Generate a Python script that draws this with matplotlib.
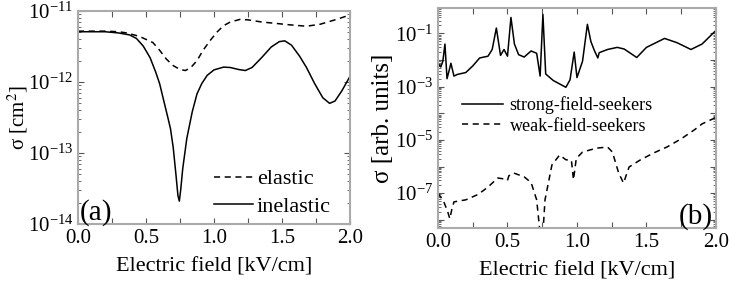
import matplotlib
matplotlib.use("Agg")
import matplotlib.pyplot as plt
from matplotlib.ticker import LogLocator, NullFormatter

plt.rcParams['font.family'] = ['Liberation Serif', 'DejaVu Serif']
plt.rcParams['mathtext.fontset'] = 'stix'

# panel (a)
el_x = [0.0, 0.1, 0.2, 0.3, 0.36, 0.45, 0.55, 0.60, 0.65, 0.70, 0.75, 0.79, 0.83,
        0.875, 0.92, 0.97, 1.02, 1.07, 1.12, 1.19, 1.25, 1.35, 1.45, 1.55, 1.68,
        1.78, 1.9, 2.0]
el_y = [5.2e-12, 5.2e-12, 5.2e-12, 5.1e-12, 4.9e-12, 4.4e-12, 3.6e-12, 2.8e-12,
        2.1e-12, 1.7e-12, 1.5e-12, 1.45e-12, 1.6e-12, 2.0e-12, 2.8e-12, 3.8e-12,
        5.0e-12, 6.2e-12, 7.0e-12, 7.6e-12, 7.5e-12, 7.0e-12, 6.7e-12, 6.4e-12,
        6.1e-12, 6.5e-12, 7.6e-12, 8.8e-12]
inel_x = [0.0, 0.1, 0.2, 0.3, 0.38, 0.43, 0.48, 0.53, 0.57, 0.60, 0.63, 0.66, 0.68,
          0.70, 0.72, 0.735, 0.745, 0.755, 0.77, 0.80, 0.84, 0.875, 0.91, 0.95, 1.0,
          1.07, 1.12, 1.18, 1.23, 1.28, 1.35, 1.42, 1.48, 1.52, 1.57, 1.63, 1.68,
          1.74, 1.80, 1.85, 1.89, 1.94, 2.0]
inel_y = [5.1e-12, 5.1e-12, 5.1e-12, 4.9e-12, 4.6e-12, 4.1e-12, 3.2e-12, 2.2e-12,
          1.4e-12, 9.5e-13, 5.5e-13, 3.2e-13, 2.2e-13, 1.2e-13, 5e-14, 2.5e-14,
          2.1e-14, 3e-14, 6e-14, 1.6e-13, 3.8e-13, 6.8e-13, 9.5e-13, 1.24e-12,
          1.48e-12, 1.62e-12, 1.6e-12, 1.5e-12, 1.45e-12, 1.6e-12, 2.2e-12, 3.1e-12,
          3.7e-12, 3.8e-12, 3.3e-12, 2.3e-12, 1.6e-12, 9.5e-13, 6e-13, 5.0e-13,
          5.4e-13, 7.5e-13, 1.2e-12]

# panel (b)
sfs_x = [0.0, 0.02, 0.035, 0.05, 0.065, 0.08, 0.093, 0.115, 0.14, 0.2, 0.25, 0.3,
         0.36, 0.39, 0.42, 0.45, 0.475, 0.5, 0.525, 0.55, 0.58, 0.62, 0.67, 0.71,
         0.735, 0.755, 0.775, 0.83, 0.92, 0.95, 0.98, 1.0, 1.04, 1.075, 1.1, 1.125,
         1.15, 1.16, 1.22, 1.29, 1.34, 1.43, 1.5, 1.63, 1.72, 1.82, 1.9, 2.0]
sfs_y = [7.5e-3, 5.5e-3, 9e-3, 4e-2, 2e-3, 4e-3, 7.6e-3, 2.5e-3, 2.9e-3, 3.4e-3,
         6e-3, 1.2e-2, 1.4e-2, 2.5e-2, 0.16, 1.5e-2, 2.5e-2, 1.4e-2, 0.40, 4e-2,
         1.6e-2, 1.3e-2, 2.2e-2, 1.8e-2, 2.5e-3, 0.52, 3e-3, 1.7e-3, 9.5e-4, 1.8e-3,
         2e-2, 2.2e-3, 9e-3, 0.22, 5e-2, 2.3e-2, 1.2e-2, 1.9e-2, 2.5e-2, 3.0e-2,
         2.6e-2, 1.25e-2, 3e-2, 6.5e-2, 4.5e-2, 2.5e-2, 4e-2, 0.13]
wfs_x = [0.0, 0.04, 0.07, 0.085, 0.1, 0.115, 0.2, 0.29, 0.36, 0.43, 0.48, 0.5, 0.51,
         0.545, 0.62, 0.67, 0.71, 0.735, 0.755, 0.77, 0.82, 0.875, 0.92, 0.96, 0.975,
         0.995, 1.04, 1.14, 1.22, 1.255, 1.3, 1.335, 1.375, 1.45, 1.55, 1.65, 1.75,
         1.85, 1.9, 2.0]
wfs_y = [1.0e-7, 5e-8, 2e-8, 1.1e-8, 2.5e-8, 4.7e-8, 5.6e-8, 9e-8, 1.7e-7, 3.7e-7,
         3.4e-7, 3e-7, 4.5e-7, 5.7e-7, 4.1e-7, 2.5e-7, 5.6e-8, 3e-9, 3e-9, 5.6e-8,
         1.15e-6, 2.7e-6, 1.8e-6, 1.7e-6, 3.2e-7, 2e-6, 3.5e-6, 4.9e-6, 5.4e-6,
         3.5e-6, 5.7e-7, 2.4e-7, 9.6e-7, 1.7e-6, 3.2e-6, 5.5e-6, 1.1e-5, 2.5e-5,
         4e-5, 7e-5]

xticks = [0.0, 0.25, 0.5, 0.75, 1.0, 1.25, 1.5, 1.75, 2.0]
xlabels = ['0.0', '', '0.5', '', '1.0', '', '1.5', '', '2.0']

fig = plt.figure(figsize=(7.29, 2.86), dpi=100)
ax1 = fig.add_axes([0.107, 0.2168, 0.3731, 0.7448])
ax2 = fig.add_axes([0.6008, 0.2028, 0.3813, 0.769])

ax1.plot(el_x, el_y, c='black', lw=1.1, ls=(0, (4, 3)), label='elastic')
ax1.plot(inel_x, inel_y, c='black', lw=1.1, label='inelastic')
ax1.set_yscale('log')
ax1.set_ylim(1e-14, 1e-11)
ax1.set_ylabel(r'σ [cm$^2$]', fontsize=15, labelpad=-2)
ax1.legend(loc='lower right', bbox_to_anchor=(0.93, 0.035), fontsize=16,
           frameon=False, handlelength=1.75, handletextpad=0.2, labelspacing=0.3,
           borderpad=0.0, borderaxespad=0.0)
ax1.text(0.005, 0.02, '(a)', transform=ax1.transAxes, fontsize=21)

ax2.plot(sfs_x, sfs_y, c='black', lw=1.1, label='strong-field-seekers')
ax2.plot(wfs_x, wfs_y, c='black', lw=1.1, ls=(0, (4, 3)), label='weak-field-seekers')
ax2.set_yscale('log')
ax2.set_ylim(4.9e-9, 0.9)
ax2.set_yticks([10.0**e for e in range(-8, 0)])
ax2.set_yticklabels(['' if e % 2 == 0 else r'$\mathdefault{10^{%d}}$' % e
                     for e in range(-8, 0)])
ax2.set_ylabel('σ [arb. units]', fontsize=18, labelpad=1)
ax2.legend(loc='upper left', bbox_to_anchor=(0.086, 0.60), fontsize=13, frameon=False,
           handlelength=2.3, handletextpad=0.35, labelspacing=0.2, borderpad=0.0,
           borderaxespad=0.0)
ax2.text(0.99, 0.02, '(b)', transform=ax2.transAxes, fontsize=21, ha='right')

for ax in (ax1, ax2):
    ax.set_xlim(0, 2.0)
    ax.set_xticks(xticks)
    ax.set_xticklabels(xlabels)
    ax.set_xlabel('Electric field [kV/cm]', fontsize=16, labelpad=7)
    ax.yaxis.set_minor_locator(LogLocator(base=10, subs=range(2, 10), numticks=20))
    ax.yaxis.set_minor_formatter(NullFormatter())
    ax.tick_params(which='both', direction='in', top=True, right=True,
                   labelsize=15, color='#555555')
    ax.tick_params(which='major', length=4)
    ax.tick_params(which='minor', length=2)
    for s in ax.spines.values():
        s.set_color('#aaaaaa')
        s.set_linewidth(1.5)

plt.savefig('out.png', dpi=100)
plt.close()
